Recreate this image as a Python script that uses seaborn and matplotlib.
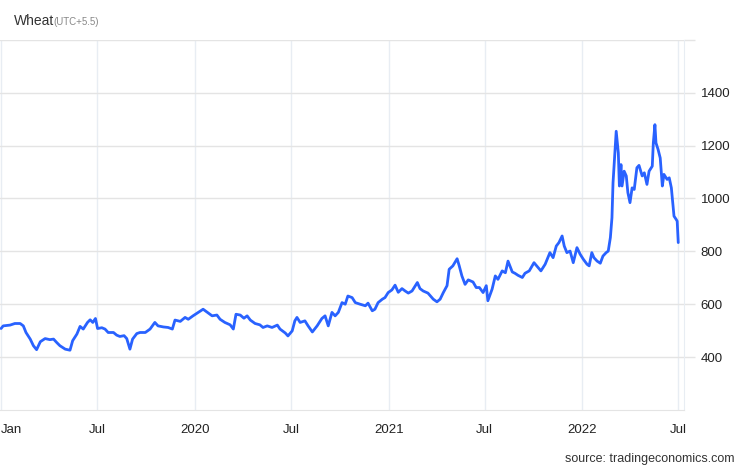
import pandas as pd
import numpy as np
import matplotlib
matplotlib.use("Agg")
import matplotlib.pyplot as plt
import seaborn as sns

# wheat price (USd/bu), roughly every week
dates = [
    "2019-01-01", "2019-01-05", "2019-01-18", "2019-01-27", "2019-02-06", "2019-02-12",
    "2019-02-17", "2019-02-25", "2019-03-03", "2019-03-09", "2019-03-16", "2019-03-25",
    "2019-04-03", "2019-04-10", "2019-04-16", "2019-04-22", "2019-05-02", "2019-05-11",
    "2019-05-16", "2019-05-24", "2019-05-30", "2019-06-05", "2019-06-13", "2019-06-18",
    "2019-06-23", "2019-06-28", "2019-07-02", "2019-07-10", "2019-07-16", "2019-07-22",
    "2019-08-01", "2019-08-07", "2019-08-13", "2019-08-21", "2019-08-26", "2019-09-01",
    "2019-09-06", "2019-09-14", "2019-09-20", "2019-09-30", "2019-10-09", "2019-10-18",
    "2019-10-24", "2019-11-03", "2019-11-12", "2019-11-20", "2019-11-25", "2019-12-05",
    "2019-12-14", "2019-12-20", "2019-12-29", "2020-01-08", "2020-01-17", "2020-01-25",
    "2020-02-03", "2020-02-12", "2020-02-18", "2020-02-27", "2020-03-08", "2020-03-14",
    "2020-03-19", "2020-03-27", "2020-04-03", "2020-04-09", "2020-04-15", "2020-04-24",
    "2020-05-03", "2020-05-09", "2020-05-17", "2020-05-26", "2020-06-05", "2020-06-10",
    "2020-06-20", "2020-06-25", "2020-07-03", "2020-07-08", "2020-07-12", "2020-07-18",
    "2020-07-27", "2020-08-02", "2020-08-10", "2020-08-19", "2020-08-28", "2020-09-03",
    "2020-09-09", "2020-09-16", "2020-09-22", "2020-09-28", "2020-10-05", "2020-10-11",
    "2020-10-16", "2020-10-24", "2020-10-30", "2020-11-08", "2020-11-18", "2020-11-23",
    "2020-12-01", "2020-12-06", "2020-12-12", "2020-12-20", "2020-12-25", "2020-12-31",
    "2021-01-07", "2021-01-13", "2021-01-19", "2021-01-26", "2021-02-01", "2021-02-07",
    "2021-02-14", "2021-02-24", "2021-03-01", "2021-03-07", "2021-03-16", "2021-03-26",
    "2021-04-02", "2021-04-08", "2021-04-14", "2021-04-21", "2021-04-25", "2021-05-02",
    "2021-05-10", "2021-05-14", "2021-05-19", "2021-05-25", "2021-05-31", "2021-06-09",
    "2021-06-15", "2021-06-21", "2021-06-28", "2021-07-04", "2021-07-07", "2021-07-15",
    "2021-07-21", "2021-07-26", "2021-08-03", "2021-08-09", "2021-08-14", "2021-08-22",
    "2021-08-27", "2021-09-02", "2021-09-10", "2021-09-15", "2021-09-23", "2021-10-02",
    "2021-10-10", "2021-10-15", "2021-10-23", "2021-11-01", "2021-11-07", "2021-11-13",
    "2021-11-18", "2021-11-24", "2021-11-28", "2021-12-03", "2021-12-09", "2021-12-15",
    "2021-12-22", "2021-12-28", "2022-01-03", "2022-01-10", "2022-01-14", "2022-01-19",
    "2022-01-23", "2022-01-29", "2022-02-04", "2022-02-09", "2022-02-15", "2022-02-19",
    "2022-02-23", "2022-02-26", "2022-02-28", "2022-03-04", "2022-03-06", "2022-03-10",
    "2022-03-12", "2022-03-15", "2022-03-17", "2022-03-21", "2022-03-25", "2022-03-28",
    "2022-04-01", "2022-04-05", "2022-04-09", "2022-04-14", "2022-04-18", "2022-04-24",
    "2022-04-28", "2022-05-03", "2022-05-07", "2022-05-13", "2022-05-15", "2022-05-18",
    "2022-05-20", "2022-05-24", "2022-05-28", "2022-06-01", "2022-06-04", "2022-06-10",
    "2022-06-14", "2022-06-18", "2022-06-21", "2022-06-23", "2022-06-27", "2022-06-29",
    "2022-07-01",
]
prices = [
    508, 518, 521, 527, 527, 518,
    493, 468, 443, 428, 458, 470,
    466, 468, 455, 443, 430, 426,
    462, 487, 516, 506, 531, 541,
    531, 546, 508, 511, 506, 493,
    493, 483, 478, 481, 470, 430,
    468, 489, 493, 493, 506, 531,
    518, 514, 512, 506, 540, 535,
    550, 543, 556, 569, 581, 569,
    556, 559, 543, 531, 522, 506,
    562, 559, 547, 556, 540, 527,
    522, 512, 518, 512, 521, 506,
    491, 480, 499, 537, 550, 531,
    537, 518, 495, 518, 546, 556,
    518, 569, 556, 569, 606, 600,
    631, 625, 606, 600, 594, 604,
    575, 581, 606, 619, 625, 644,
    654, 672, 645, 659, 650, 642,
    650, 682, 659, 650, 642, 619,
    609, 619, 644, 670, 732, 745,
    772, 745, 707, 675, 692, 684,
    663, 663, 644, 670, 613, 657,
    707, 694, 726, 719, 763, 722,
    717, 709, 701, 717, 726, 757,
    738, 726, 751, 795, 776, 820,
    833, 858, 820, 795, 801, 757,
    814, 789, 770, 751, 745, 795,
    776, 763, 755, 782, 795, 801,
    852, 927, 1059, 1185, 1254, 1172,
    1047, 1128, 1047, 1103, 1085, 1022,
    984, 1040, 1034, 1116, 1125, 1085,
    1097, 1053, 1103, 1122, 1210, 1279,
    1210, 1185, 1153, 1047, 1091, 1072,
    1078, 1040, 977, 933, 921, 914,
    833,
]

tick_dates = ["2019-01-01", "2019-07-01", "2020-01-01", "2020-07-01",
              "2021-01-01", "2021-07-01", "2022-01-01", "2022-07-01"]
tick_labels = ["Jan", "Jul", "2020", "Jul", "2021", "Jul", "2022", "Jul"]
y_ticks = [400, 600, 800, 1000, 1200, 1400]

df = pd.DataFrame({"date": pd.to_datetime(dates), "price": prices})

sns.set_style("white")
plt.rcParams["font.family"] = ["Liberation Sans", "DejaVu Sans"]

fig = plt.figure(figsize=(7.46, 4.68), dpi=100)
ax = fig.add_axes([0.0, 0.124, 0.917, 0.791])

# light grid: vertical at each tick date, horizontal at each price level
for d in tick_dates:
    ax.axvline(pd.Timestamp(d), color="#e8edf3", linewidth=1, zorder=0)
for v in y_ticks + [1600]:
    ax.axhline(v, color="#e4e4e4", linewidth=1, zorder=0)

sns.lineplot(data=df, x="date", y="price", ax=ax, color="#2962ff",
             linewidth=2, zorder=3)

ax.set_xlim(pd.Timestamp("2018-12-30"), pd.Timestamp("2022-07-12"))
ax.set_ylim(200, 1600)

ax.set_xticks(pd.to_datetime(tick_dates))
ax.set_xticklabels(tick_labels)
ax.tick_params(axis="x", length=0, pad=10, labelsize=9.5, labelcolor="#222222")
ax.get_xticklabels()[0].set_horizontalalignment("left")

ax.yaxis.tick_right()
ax.set_yticks(y_ticks + [1600])
ax.set_yticklabels([str(v) for v in y_ticks] + [""])
ax.tick_params(axis="y", length=8, width=1, color="#e4e4e4", pad=4,
               labelsize=9.5, labelcolor="#222222")
ax.set_xlabel("")
ax.set_ylabel("")

for side in ["left", "top"]:
    ax.spines[side].set_visible(False)
ax.spines["right"].set_color("#e8edf3")
ax.spines["bottom"].set_color("#e4e4e4")

fig.text(0.019, 0.955, "Wheat", fontsize=10, color="#333333", va="center")
fig.text(0.071, 0.953, "(UTC+5.5)", fontsize=7, color="#888888", va="center")
fig.text(0.985, 0.019, "source: tradingeconomics.com", fontsize=9,
         color="#333333", ha="right", va="center")

fig.savefig("out.png", dpi=100)
